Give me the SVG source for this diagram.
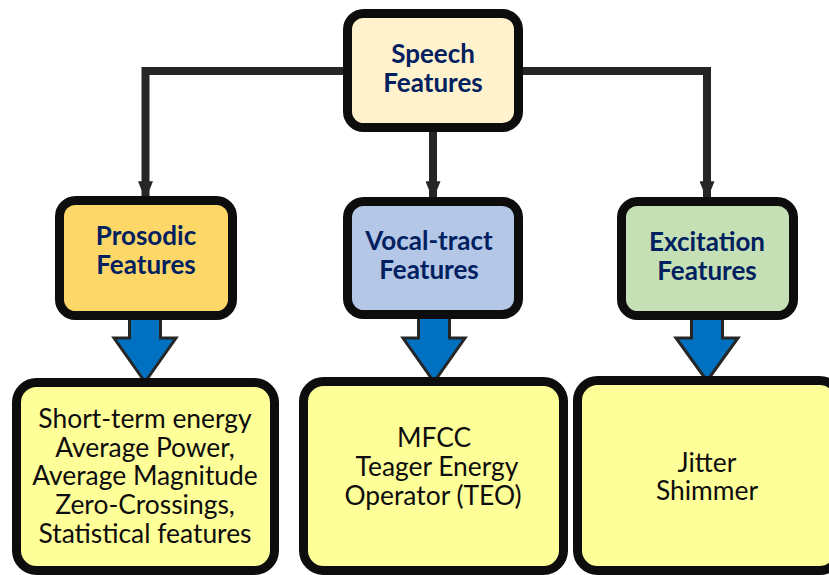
<svg xmlns="http://www.w3.org/2000/svg" width="829" height="575" viewBox="0 0 829 575">
  <style>
    .box { stroke: #0d0d0d; stroke-width: 9; }
    .head { font-family: Lato, "Liberation Sans", sans-serif; font-weight: bold; font-size: 26px; fill: #002060; text-anchor: middle; }
    .body { font-family: Lato, "Liberation Sans", sans-serif; font-size: 26.4px; fill: #0d0d0d; text-anchor: middle; }
    .wire { fill: none; stroke: #262626; stroke-width: 8; }
    .flow { fill: #0070c0; stroke: #262626; stroke-width: 3; stroke-linejoin: miter; }
  </style>
  <defs>
    <marker id="tip" viewBox="0 0 10 8" refX="10" refY="4" markerWidth="19" markerHeight="15" markerUnits="userSpaceOnUse" orient="auto">
      <path d="M0,0 L10,4 L0,8 Z" fill="#262626"/>
    </marker>
  </defs>
  <rect width="829" height="575" fill="#ffffff"/>

  <!-- connectors from the root to the three feature groups -->
  <g id="connectors">
    <path class="wire" d="M344,71 H145.5 V200" marker-end="url(#tip)"/>
    <path class="wire" d="M433,131 V200" marker-end="url(#tip)"/>
    <path class="wire" d="M522,71 H707 V200" marker-end="url(#tip)"/>
    <path class="flow" d="M129.5,316 H160.5 V338 H176 L145,382 L114,338 H129.5 Z"/>
    <path class="flow" d="M418.5,316 H449.5 V338 H465 L434,382 L403,338 H418.5 Z"/>
    <path class="flow" d="M691.5,316 H722.5 V338 H738 L707,381 L676,338 H691.5 Z"/>
  </g>

  <g id="speech">
    <rect class="box" x="347.5" y="13.5" width="171" height="114" rx="16" fill="#fff2cc"/>
    <text class="head" x="433" y="63">Speech</text>
    <text class="head" x="433" y="92">Features</text>
  </g>

  <g id="prosodic">
    <rect class="box" x="59.5" y="200.5" width="173" height="115" rx="16" fill="#fdd868"/>
    <text class="head" x="146" y="245">Prosodic</text>
    <text class="head" x="146" y="274">Features</text>
  </g>

  <g id="vocal-tract">
    <rect class="box" x="347.5" y="201.5" width="171" height="113" rx="16" fill="#b4c7e7"/>
    <text class="head" x="429" y="250">Vocal-tract</text>
    <text class="head" x="429" y="279">Features</text>
  </g>

  <g id="excitation">
    <rect class="box" x="621.5" y="201.5" width="172" height="114" rx="16" fill="#c5e0b4"/>
    <text class="head" x="707" y="251">Excitation</text>
    <text class="head" x="707" y="280">Features</text>
  </g>

  <g id="prosodic-list">
    <rect class="box" x="16.5" y="382.5" width="258" height="188" rx="20" fill="#ffff99"/>
    <text class="body" x="145" y="428">Short-term energy</text>
    <text class="body" x="145" y="457">Average Power,</text>
    <text class="body" x="145" y="485">Average Magnitude</text>
    <text class="body" x="145" y="514">Zero-Crossings,</text>
    <text class="body" x="145" y="543">Statistical features</text>
  </g>

  <g id="vocal-tract-list">
    <rect class="box" x="303.5" y="381.5" width="260" height="189" rx="20" fill="#ffff99"/>
    <text class="body" x="434" y="447">MFCC</text>
    <text class="body" x="437" y="476">Teager Energy</text>
    <text class="body" x="433" y="505">Operator (TEO)</text>
  </g>

  <g id="excitation-list">
    <rect class="box" x="577.5" y="380.5" width="262" height="190" rx="20" fill="#ffff99"/>
    <text class="body" x="707" y="472">Jitter</text>
    <text class="body" x="707" y="500">Shimmer</text>
  </g>
</svg>
